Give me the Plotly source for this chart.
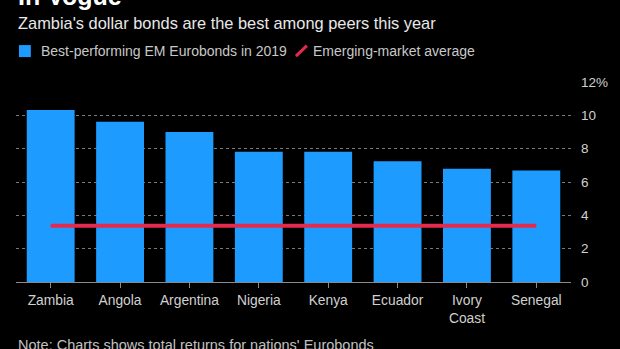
import plotly.graph_objects as go

countries = ["Zambia", "Angola", "Argentina", "Nigeria", "Kenya", "Ecuador", "Ivory<br>Coast", "Senegal"]
returns_2019 = [10.32, 9.62, 9.0, 7.82, 7.82, 7.24, 6.8, 6.69]
em_average = 3.38
y_tickvals = [0, 2, 4, 6, 8, 10, 12]
y_ticktext = ["0", "2", "4", "6", "8", "10", "12%"]

FONT = "Liberation Sans, Arial, Helvetica, sans-serif"
BLUE = "#1e9bff"
RED = "#e42a4d"

fig = go.Figure()
fig.add_trace(go.Bar(x=countries, y=returns_2019, marker=dict(color=BLUE, line=dict(width=0)),
                     name="Best-performing EM Eurobonds in 2019"))
fig.add_trace(go.Scatter(x=countries, y=[em_average] * len(countries), mode="lines",
                         line=dict(color=RED, width=4), name="Emerging-market average"))

L, R, T, B = 16, 43, 82, 66.5
W, H = 620, 349
pw = W - L - R
ph = H - T - B


def py(pix):
    return (H - B - pix) / ph


def px(pix):
    return (pix - L) / pw


fig.update_layout(
    width=W, height=H,
    margin=dict(l=L, r=R, t=T, b=B, pad=0),
    paper_bgcolor="black", plot_bgcolor="black",
    showlegend=False,
    bargap=0.31,
    font=dict(family=FONT, color="#d0d0d0", size=14),
    xaxis=dict(showgrid=False, showline=True, linecolor="#8a8a8a", linewidth=1,
               ticks="outside", ticklen=5, tickcolor="#8a8a8a", tickwidth=1,
               tickfont=dict(size=13.8, color="#d0d0d0"), fixedrange=True),
    yaxis=dict(range=[0, 12], side="right", tickvals=y_tickvals, ticktext=y_ticktext,
               showgrid=True, gridcolor="#7a7a7a", griddash="dot", gridwidth=1,
               zeroline=False, showline=False, ticks="", ticklabelstandoff=9,
               tickfont=dict(size=13.5, color="#d0d0d0"), fixedrange=True),
)

annotations = [
    dict(text="<b>In Vogue</b>", x=px(16), y=py(-4),
         xanchor="left", yanchor="middle",
         font=dict(family=FONT, size=25, color="white")),
    dict(text="Zambia's dollar bonds are the best among peers this year", x=px(16),
         y=py(22.5), xanchor="left", yanchor="middle",
         font=dict(family=FONT, size=16.4, color="#e8e8e8")),
    dict(text="Best-performing EM Eurobonds in 2019", x=px(39),
         y=py(50.5), xanchor="left", yanchor="middle",
         font=dict(family=FONT, size=14, color="#c8c8c8")),
    dict(text="Emerging-market average", x=px(314),
         y=py(50.5), xanchor="left", yanchor="middle",
         font=dict(family=FONT, size=14, color="#c8c8c8")),
    dict(text="Note: Charts shows total returns for nations' Eurobonds", x=px(16),
         y=py(345.5), xanchor="left", yanchor="middle",
         font=dict(family=FONT, size=14.5, color="#c0c0c0")),
]
for a in annotations:
    a["xref"] = "paper"
    a["yref"] = "paper"
    a["showarrow"] = False
fig.update_layout(annotations=annotations)

shapes = [
    dict(type="rect", xref="paper", yref="paper", x0=px(19), x1=px(31),
         y0=py(57), y1=py(45), fillcolor=BLUE, line=dict(width=0)),
    dict(type="line", xref="paper", yref="paper", x0=px(299), x1=px(310),
         y0=py(56), y1=py(45.5), line=dict(color=RED, width=3)),
]
fig.update_layout(shapes=shapes)

fig.write_html("out.html")
